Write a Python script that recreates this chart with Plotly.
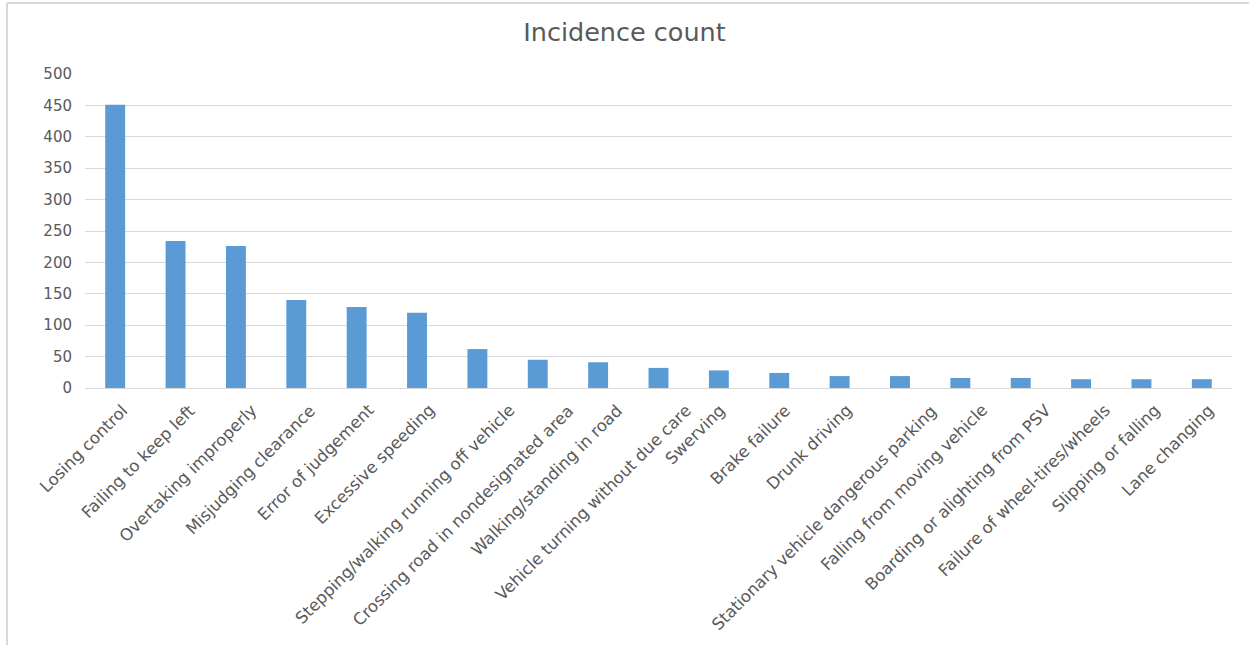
import plotly.graph_objects as go

categories = [
    "Losing control", "Failing to keep left", "Overtaking improperly",
    "Misjudging clearance", "Error of judgement", "Excessive speeding",
    "Stepping/walking running off vehicle", "Crossing road in nondesignated area",
    "Walking/standing in road", "Vehicle turning without due care", "Swerving",
    "Brake failure", "Drunk driving", "Stationary vehicle dangerous parking",
    "Falling from moving vehicle", "Boarding or alighting from PSV",
    "Failure of wheel-tires/wheels", "Slipping or falling", "Lane changing",
]
counts = [451, 234, 226, 140, 129, 120, 62, 45, 41, 32, 28, 24, 19, 19, 16, 16, 14, 14, 14]
y_ticks = [0, 50, 100, 150, 200, 250, 300, 350, 400, 450, 500]

W, H = 1249, 645
L, R, T, B = 85, 17, 74, 257
GRAY = "#595959"
LINE = "#D9D9D9"
LABEL_SIZE = 16.5

fig = go.Figure(go.Bar(x=categories, y=counts, marker_color="#5B9BD5",
                       marker_line_width=0))

pw = W - L - R
ph = H - T - B
def px_x(p):
    return (p - L) / pw
def px_y(p):
    return (H - B - p) / ph

# category labels rotated 45 degrees, placed like the spreadsheet renderer does
annotations = []
for cat in categories:
    annotations.append(dict(
        x=cat, y=0, xref="x", yref="y", text=cat, showarrow=False,
        textangle=-45, xanchor="right", yanchor="top",
        xshift=1.1 * len(cat) + 4, yshift=-10,
        font=dict(family="DejaVu Sans", size=LABEL_SIZE, color=GRAY),
    ))

fig.update_layout(
    width=W, height=H,
    margin=dict(l=L, r=R, t=T, b=B),
    paper_bgcolor="white", plot_bgcolor="white",
    bargap=0.67,
    showlegend=False,
    font=dict(family="DejaVu Sans", color=GRAY, size=15),
    title=dict(text="Incidence count", x=0.5, xref="container", xanchor="center",
               y=1 - 32 / H, yanchor="middle",
               font=dict(family="DejaVu Sans", size=25.5, color=GRAY)),
    xaxis=dict(range=[-0.5, len(categories) - 0.5], autorange=False,
               showticklabels=False, showgrid=False, showline=True, linecolor=LINE,
               linewidth=1, ticks=""),
    yaxis=dict(range=[0, 500], autorange=False, tickvals=y_ticks, showgrid=True,
               gridcolor=LINE, gridwidth=1, zeroline=False, showline=False, ticks="",
               ticklabelstandoff=12,
               tickfont=dict(size=15, color=GRAY)),
    annotations=annotations,
    shapes=[
        dict(type="line", xref="paper", yref="paper", x0=px_x(7), x1=px_x(W + 5),
             y0=px_y(3), y1=px_y(3), line=dict(color=LINE, width=2)),
        dict(type="line", xref="paper", yref="paper", x0=px_x(7), x1=px_x(7),
             y0=px_y(3), y1=px_y(H + 5), line=dict(color=LINE, width=2)),
    ],
)

fig.write_html("out.html")
